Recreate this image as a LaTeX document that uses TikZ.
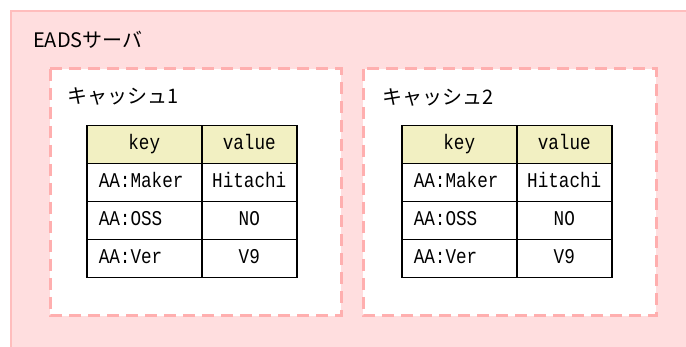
\documentclass[tikz,border=0pt]{standalone}
\usepackage{fontspec}
\setmainfont[FakeStretch=0.84]{Liberation Mono}
\newfontfamily\cjk{Noto Sans CJK JP}
\usepackage{xcolor}
\definecolor{srvfill}{HTML}{FFDEDF}
\definecolor{srvline}{HTML}{FFBDBD}
\definecolor{dashline}{HTML}{FFAFAF}
\definecolor{headfill}{HTML}{F2F0C2}
\tikzset{
  server/.style={fill=srvfill,draw=srvline,line width=1.5pt},
  cachebox/.style={fill=white,draw=dashline,line width=3pt,dash pattern=on 12pt off 7pt},
  title/.style={anchor=west,inner sep=0pt,font=\cjk\fontsize{20}{20}\selectfont},
  cell/.style={draw=black,line width=1.5pt,anchor=north west,minimum height=38pt,
    text height=14pt,text depth=4pt,font=\fontsize{21}{21}\selectfont},
  keycell/.style={cell,text width=91pt,inner xsep=12pt,align=left},
  valcell/.style={cell,minimum width=95pt,inner xsep=0pt},
}
\begin{document}
\begin{tikzpicture}[x=1pt,y=-1pt]
\useasboundingbox (0,0) rectangle (686,347);
\clip (0,0) rectangle (686,347);
\draw[server] (11,11) rectangle (700,360);
\node[title] (srv) at (33,40) {EADSサーバ};
\draw[cachebox] (50,69) rectangle (341,316);
\draw[cachebox] (363,69) rectangle (656,316);
\node[title] (c1) at (67,96) {キャッシュ1};
\node[title] (c2) at (382,97) {キャッシュ2};
% tables
\foreach \t/\xo in {1/86,2/401} {
  \node[keycell,fill=headfill,align=center] (k\t-0) at (\xo,125) {key};
  \node[valcell,fill=headfill] (v\t-0) at (\xo+115,125) {value};
  \foreach \k/\v [count=\i] in {AA:Maker/Hitachi,AA:OSS/NO,AA:Ver/V9} {
    \node[keycell] (k\t-\i) at (\xo,125+38*\i) {\k};
    \node[valcell] (v\t-\i) at (\xo+115,125+38*\i) {\v};
  }
}
\end{tikzpicture}
\end{document}
